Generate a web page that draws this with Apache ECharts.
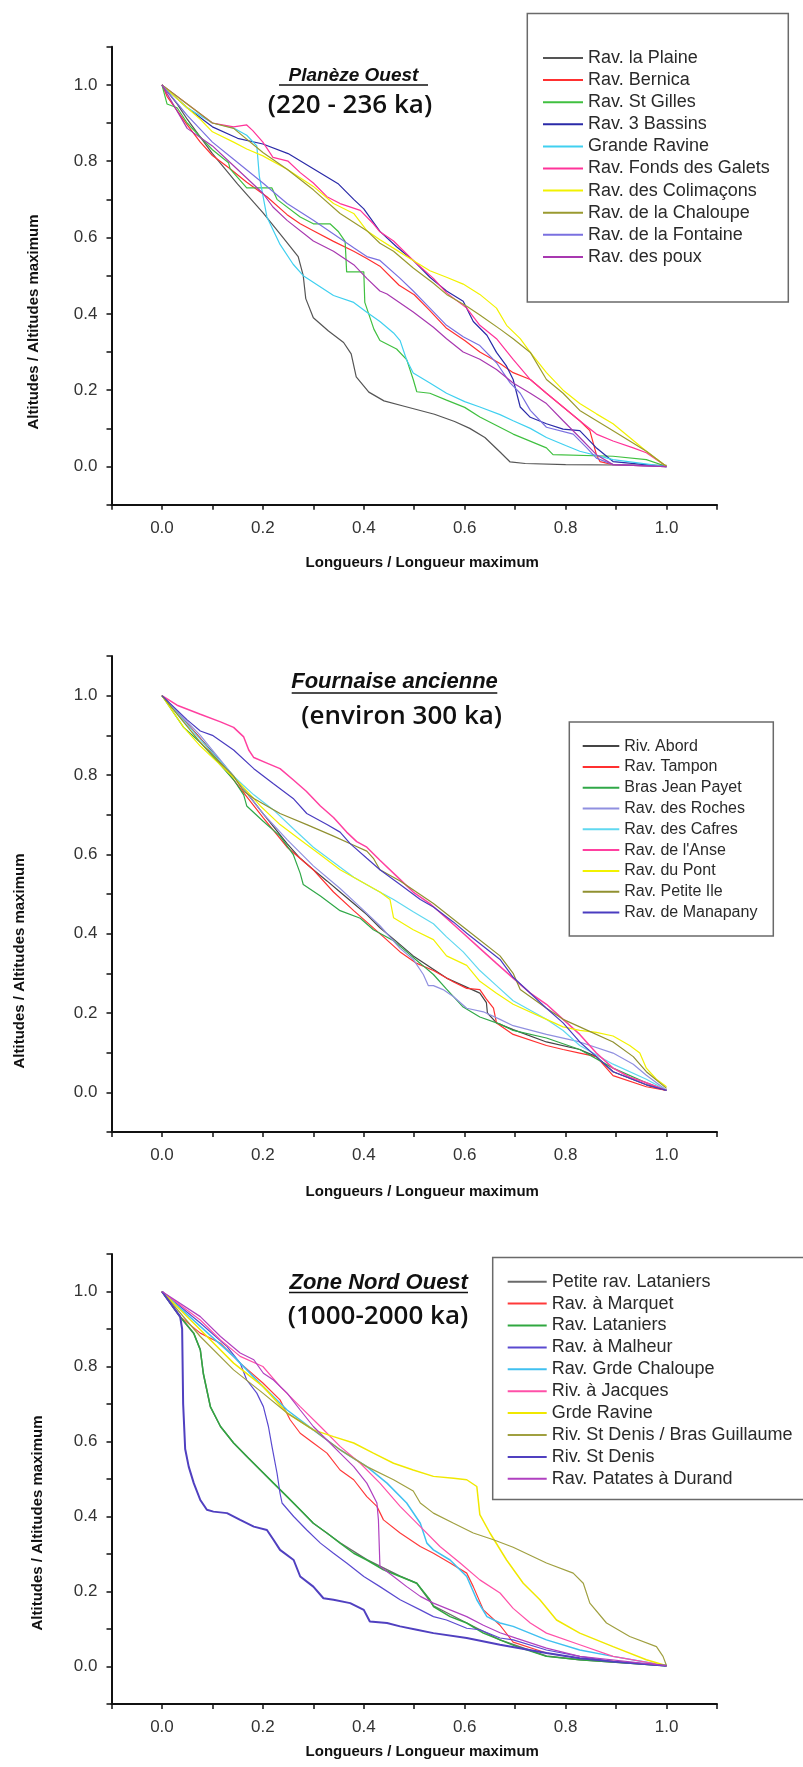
<!DOCTYPE html>
<html>
<head>
<meta charset="utf-8">
<title>Profils normalisés des ravines</title>
<script src="https://cdn.jsdelivr.net/npm/echarts@6.0.0/dist/echarts.min.js"></script>
<style>
  html, body { margin: 0; padding: 0; background: #fff; }
  #chart { width: 803px; height: 1767px; }
</style>
</head>
<body>
<div id="chart"></div>
<script>
// --- Panneau 1 : Planèze Ouest ---
const p1Names = ['Rav. la Plaine', 'Rav. Bernica', 'Rav. St Gilles', 'Rav. 3 Bassins', 'Grande Ravine',
  'Rav. Fonds des Galets', 'Rav. des Colimaçons', 'Rav. de la Chaloupe', 'Rav. de la Fontaine', 'Rav. des poux'];
const p1LaPlaine = [[0,1],[0.03,0.95],[0.05,0.91],[0.1,0.82],[0.15,0.74],[0.2,0.665],[0.24,0.6],[0.27,0.55],[0.28,0.5],[0.285,0.44],[0.3,0.39],[0.33,0.355],[0.36,0.325],[0.375,0.295],[0.385,0.235],[0.41,0.195],[0.44,0.172],[0.48,0.158],[0.54,0.137],[0.58,0.118],[0.61,0.1],[0.64,0.076],[0.67,0.038],[0.69,0.012],[0.72,0.008],[0.8,0.005],[0.9,0.004],[1,0.003]];
const p1Bernica = [[0,1],[0.01,0.97],[0.05,0.895],[0.076,0.85],[0.1,0.815],[0.135,0.78],[0.168,0.745],[0.208,0.707],[0.248,0.66],[0.274,0.636],[0.3,0.618],[0.34,0.59],[0.38,0.564],[0.406,0.545],[0.432,0.525],[0.47,0.475],[0.5,0.45],[0.53,0.41],[0.564,0.362],[0.6,0.33],[0.63,0.3],[0.67,0.27],[0.696,0.246],[0.73,0.228],[0.762,0.192],[0.795,0.156],[0.828,0.12],[0.848,0.094],[0.861,0.031],[0.868,0.013],[0.894,0.005],[1,0]];
const p1StGilles = [[0,1],[0.01,0.95],[0.03,0.94],[0.05,0.9],[0.1,0.83],[0.132,0.796],[0.135,0.78],[0.168,0.73],[0.218,0.73],[0.228,0.7],[0.274,0.654],[0.3,0.636],[0.333,0.636],[0.35,0.615],[0.363,0.59],[0.366,0.51],[0.4,0.51],[0.402,0.43],[0.42,0.36],[0.432,0.33],[0.465,0.308],[0.485,0.28],[0.498,0.228],[0.505,0.196],[0.531,0.192],[0.564,0.174],[0.6,0.155],[0.63,0.13],[0.696,0.085],[0.762,0.049],[0.775,0.031],[0.894,0.027],[0.96,0.018],[1,0]];
const p1TroisBassins = [[0,1],[0.05,0.94],[0.1,0.89],[0.15,0.86],[0.2,0.845],[0.25,0.82],[0.3,0.78],[0.35,0.74],[0.38,0.7],[0.4,0.675],[0.432,0.616],[0.465,0.576],[0.498,0.54],[0.531,0.496],[0.564,0.46],[0.597,0.433],[0.617,0.38],[0.644,0.344],[0.663,0.299],[0.683,0.263],[0.696,0.228],[0.703,0.192],[0.71,0.156],[0.73,0.129],[0.762,0.112],[0.795,0.098],[0.828,0.094],[0.86,0.05],[0.894,0.013],[1,0]];
const p1GrandeRavine = [[0,1],[0.05,0.94],[0.1,0.9],[0.142,0.887],[0.168,0.868],[0.188,0.84],[0.193,0.76],[0.198,0.725],[0.208,0.654],[0.234,0.582],[0.26,0.53],[0.28,0.5],[0.34,0.448],[0.38,0.43],[0.406,0.404],[0.432,0.38],[0.459,0.35],[0.472,0.33],[0.485,0.279],[0.498,0.245],[0.531,0.219],[0.564,0.192],[0.6,0.17],[0.63,0.156],[0.67,0.136],[0.696,0.12],[0.73,0.1],[0.762,0.076],[0.8,0.055],[0.828,0.04],[0.894,0.018],[1,0]];
const p1FondsGalets = [[0,1],[0.05,0.95],[0.1,0.9],[0.142,0.89],[0.168,0.895],[0.18,0.88],[0.2,0.85],[0.22,0.81],[0.25,0.8],[0.274,0.77],[0.3,0.743],[0.327,0.707],[0.353,0.689],[0.393,0.671],[0.419,0.636],[0.432,0.615],[0.459,0.591],[0.498,0.54],[0.538,0.493],[0.564,0.455],[0.604,0.415],[0.63,0.37],[0.663,0.335],[0.696,0.281],[0.73,0.228],[0.762,0.192],[0.795,0.156],[0.828,0.12],[0.861,0.085],[0.894,0.067],[0.934,0.049],[0.96,0.036],[1,0]];
const p1Colimacons = [[0,1],[0.05,0.94],[0.076,0.91],[0.1,0.877],[0.142,0.85],[0.168,0.832],[0.2,0.814],[0.248,0.779],[0.3,0.734],[0.34,0.689],[0.38,0.663],[0.406,0.618],[0.432,0.594],[0.465,0.567],[0.498,0.54],[0.531,0.513],[0.564,0.496],[0.597,0.478],[0.63,0.451],[0.663,0.415],[0.683,0.37],[0.71,0.335],[0.73,0.299],[0.762,0.246],[0.795,0.2],[0.828,0.165],[0.861,0.138],[0.894,0.112],[0.927,0.076],[0.96,0.04],[1,0]];
const p1Chaloupe = [[0,1],[0.05,0.95],[0.1,0.9],[0.142,0.886],[0.2,0.823],[0.248,0.779],[0.3,0.725],[0.353,0.663],[0.406,0.618],[0.432,0.585],[0.459,0.564],[0.498,0.52],[0.538,0.48],[0.564,0.451],[0.604,0.42],[0.63,0.397],[0.67,0.36],[0.696,0.335],[0.73,0.299],[0.762,0.228],[0.795,0.192],[0.828,0.147],[0.894,0.094],[0.96,0.04],[1,0]];
const p1Fontaine = [[0,1],[0.05,0.92],[0.1,0.85],[0.142,0.805],[0.2,0.743],[0.248,0.689],[0.3,0.645],[0.34,0.609],[0.38,0.573],[0.406,0.55],[0.432,0.54],[0.472,0.493],[0.498,0.46],[0.531,0.415],[0.564,0.37],[0.597,0.34],[0.63,0.317],[0.663,0.272],[0.69,0.219],[0.71,0.192],[0.73,0.147],[0.762,0.103],[0.815,0.085],[0.842,0.049],[0.861,0.022],[0.894,0.005],[1,0]];
const p1Poux = [[0,1],[0.05,0.886],[0.1,0.84],[0.142,0.788],[0.2,0.716],[0.22,0.68],[0.248,0.645],[0.3,0.591],[0.34,0.564],[0.38,0.529],[0.406,0.493],[0.432,0.46],[0.446,0.452],[0.498,0.405],[0.538,0.365],[0.564,0.335],[0.597,0.3],[0.63,0.281],[0.663,0.254],[0.696,0.219],[0.73,0.192],[0.762,0.165],[0.795,0.12],[0.828,0.076],[0.861,0.031],[0.894,0.005],[1,0]];

// --- Panneau 2 : Fournaise ancienne ---
const p2Names = ['Riv. Abord', 'Rav. Tampon', 'Bras Jean Payet', 'Rav. des Roches', 'Rav. des Cafres',
  "Rav. de l'Anse", 'Rav. du Pont', 'Rav. Petite Ile', 'Rav. de Manapany'];
const p2Abord = [[0,1],[0.076,0.892],[0.142,0.797],[0.2,0.703],[0.248,0.627],[0.274,0.59],[0.3,0.561],[0.327,0.533],[0.353,0.505],[0.38,0.476],[0.406,0.448],[0.432,0.415],[0.465,0.38],[0.498,0.344],[0.531,0.316],[0.564,0.288],[0.597,0.269],[0.63,0.25],[0.643,0.226],[0.645,0.2],[0.663,0.175],[0.696,0.158],[0.762,0.127],[0.828,0.108],[0.861,0.09],[0.894,0.052],[0.96,0.019],[1,0.005]];
const p2Tampon = [[0,1],[0.076,0.892],[0.142,0.788],[0.2,0.693],[0.248,0.618],[0.3,0.561],[0.34,0.505],[0.38,0.458],[0.406,0.429],[0.439,0.392],[0.472,0.354],[0.505,0.325],[0.538,0.307],[0.578,0.278],[0.604,0.262],[0.63,0.259],[0.643,0.235],[0.657,0.212],[0.663,0.175],[0.696,0.146],[0.762,0.118],[0.795,0.108],[0.828,0.099],[0.861,0.09],[0.894,0.042],[0.96,0.014],[1,0.005]];
const p2JeanPayet = [[0,1],[0.043,0.92],[0.076,0.882],[0.142,0.788],[0.162,0.75],[0.168,0.722],[0.2,0.684],[0.234,0.646],[0.26,0.6],[0.274,0.552],[0.28,0.524],[0.314,0.495],[0.353,0.458],[0.393,0.439],[0.419,0.41],[0.459,0.382],[0.485,0.354],[0.512,0.325],[0.538,0.297],[0.564,0.26],[0.597,0.215],[0.63,0.19],[0.67,0.172],[0.696,0.156],[0.762,0.137],[0.828,0.108],[0.894,0.061],[0.96,0.024],[1,0.005]];
const p2Roches = [[0,1],[0.076,0.9],[0.142,0.797],[0.2,0.703],[0.248,0.637],[0.3,0.571],[0.353,0.514],[0.393,0.467],[0.432,0.42],[0.472,0.363],[0.498,0.335],[0.518,0.297],[0.528,0.269],[0.538,0.269],[0.557,0.259],[0.578,0.241],[0.604,0.212],[0.637,0.203],[0.67,0.184],[0.696,0.168],[0.762,0.146],[0.828,0.127],[0.894,0.099],[0.934,0.071],[0.96,0.043],[1,0.005]];
const p2Cafres = [[0,1],[0.076,0.89],[0.142,0.797],[0.182,0.75],[0.221,0.712],[0.26,0.665],[0.3,0.618],[0.34,0.58],[0.38,0.542],[0.419,0.514],[0.459,0.486],[0.498,0.455],[0.538,0.425],[0.564,0.392],[0.597,0.354],[0.63,0.307],[0.663,0.269],[0.696,0.231],[0.762,0.184],[0.795,0.156],[0.828,0.118],[0.894,0.071],[0.96,0.033],[1,0.005]];
const p2Anse = [[0,1],[0.03,0.976],[0.076,0.953],[0.116,0.934],[0.142,0.92],[0.162,0.896],[0.172,0.863],[0.182,0.844],[0.208,0.83],[0.234,0.816],[0.26,0.788],[0.286,0.759],[0.314,0.722],[0.34,0.693],[0.366,0.656],[0.386,0.632],[0.406,0.618],[0.432,0.585],[0.465,0.545],[0.498,0.505],[0.531,0.476],[0.564,0.439],[0.597,0.401],[0.63,0.363],[0.663,0.325],[0.696,0.288],[0.73,0.25],[0.762,0.222],[0.795,0.184],[0.828,0.146],[0.861,0.099],[0.894,0.061],[0.927,0.038],[0.96,0.024],[1,0.005]];
const p2Pont = [[0,1],[0.043,0.92],[0.076,0.873],[0.116,0.825],[0.155,0.778],[0.195,0.722],[0.234,0.675],[0.274,0.637],[0.314,0.599],[0.353,0.561],[0.393,0.533],[0.432,0.505],[0.452,0.486],[0.459,0.44],[0.498,0.41],[0.538,0.385],[0.564,0.344],[0.604,0.32],[0.63,0.28],[0.663,0.25],[0.696,0.222],[0.762,0.184],[0.795,0.165],[0.828,0.156],[0.861,0.151],[0.894,0.142],[0.927,0.118],[0.947,0.099],[0.96,0.061],[0.98,0.033],[1,0.014]];
const p2PetiteIle = [[0,1],[0.076,0.882],[0.142,0.797],[0.162,0.759],[0.182,0.741],[0.234,0.703],[0.287,0.675],[0.34,0.646],[0.38,0.623],[0.406,0.608],[0.419,0.59],[0.432,0.561],[0.472,0.533],[0.538,0.476],[0.604,0.41],[0.67,0.344],[0.696,0.3],[0.71,0.259],[0.762,0.212],[0.795,0.184],[0.828,0.165],[0.894,0.127],[0.934,0.09],[0.96,0.052],[1,0.01]];
const p2Manapany = [[0,1],[0.05,0.939],[0.076,0.911],[0.1,0.9],[0.142,0.863],[0.182,0.816],[0.221,0.778],[0.26,0.741],[0.287,0.703],[0.327,0.675],[0.353,0.656],[0.373,0.627],[0.406,0.59],[0.432,0.561],[0.472,0.524],[0.512,0.486],[0.538,0.467],[0.578,0.429],[0.604,0.401],[0.67,0.335],[0.696,0.29],[0.762,0.212],[0.795,0.175],[0.828,0.127],[0.861,0.09],[0.894,0.052],[0.96,0.019],[1,0.005]];

// --- Panneau 3 : Zone Nord Ouest ---
const p3Names = ['Petite rav. Lataniers', 'Rav. à Marquet', 'Rav. Lataniers', 'Rav. à Malheur', 'Rav. Grde Chaloupe',
  'Riv. à Jacques', 'Grde Ravine', 'Riv. St Denis / Bras Guillaume', 'Riv. St Denis', 'Rav. Patates à Durand'];
const p3PetiteLataniers = [[0,1],[0.036,0.932],[0.063,0.888],[0.076,0.845],[0.082,0.78],[0.096,0.692],[0.116,0.64],[0.142,0.596],[0.195,0.524],[0.248,0.453],[0.3,0.382],[0.353,0.33],[0.406,0.285],[0.472,0.241],[0.505,0.222],[0.538,0.162],[0.604,0.116],[0.67,0.071],[0.762,0.028],[0.828,0.018],[1,0.002]];
const p3Marquet = [[0,1],[0.036,0.933],[0.076,0.889],[0.116,0.862],[0.155,0.809],[0.2,0.756],[0.234,0.711],[0.254,0.658],[0.274,0.622],[0.3,0.596],[0.327,0.569],[0.353,0.524],[0.38,0.498],[0.406,0.453],[0.426,0.427],[0.439,0.391],[0.472,0.356],[0.512,0.32],[0.538,0.302],[0.571,0.276],[0.604,0.249],[0.617,0.213],[0.637,0.151],[0.67,0.11],[0.696,0.065],[0.762,0.036],[0.828,0.022],[1,0.002]];
const p3Lataniers = [[0,1],[0.036,0.933],[0.063,0.889],[0.076,0.844],[0.082,0.782],[0.096,0.693],[0.116,0.64],[0.142,0.596],[0.168,0.56],[0.195,0.524],[0.221,0.489],[0.248,0.453],[0.274,0.418],[0.3,0.382],[0.327,0.356],[0.353,0.329],[0.38,0.302],[0.406,0.284],[0.439,0.258],[0.472,0.24],[0.505,0.222],[0.531,0.178],[0.538,0.16],[0.571,0.133],[0.604,0.116],[0.637,0.089],[0.67,0.071],[0.703,0.053],[0.762,0.027],[0.828,0.018],[1,0.002]];
const p3Malheur = [[0,1],[0.076,0.916],[0.129,0.853],[0.155,0.809],[0.168,0.764],[0.188,0.729],[0.201,0.693],[0.211,0.64],[0.218,0.587],[0.228,0.516],[0.234,0.462],[0.238,0.436],[0.261,0.4],[0.287,0.364],[0.314,0.329],[0.34,0.302],[0.366,0.276],[0.4,0.24],[0.432,0.213],[0.472,0.178],[0.512,0.151],[0.538,0.133],[0.564,0.124],[0.604,0.102],[0.63,0.098],[0.67,0.076],[0.696,0.071],[0.762,0.044],[0.828,0.027],[0.894,0.013],[1,0.002]];
const p3GrdeChaloupe = [[0,1],[0.076,0.907],[0.142,0.827],[0.2,0.747],[0.248,0.684],[0.3,0.631],[0.353,0.578],[0.406,0.533],[0.446,0.489],[0.485,0.436],[0.512,0.382],[0.525,0.329],[0.538,0.311],[0.571,0.284],[0.604,0.24],[0.624,0.178],[0.644,0.133],[0.67,0.116],[0.696,0.107],[0.762,0.071],[0.828,0.044],[0.894,0.027],[1,0.002]];
const p3Jacques = [[0,1],[0.076,0.924],[0.116,0.871],[0.155,0.827],[0.2,0.8],[0.234,0.747],[0.274,0.693],[0.314,0.64],[0.353,0.587],[0.393,0.542],[0.432,0.489],[0.472,0.427],[0.512,0.373],[0.551,0.32],[0.591,0.276],[0.63,0.231],[0.67,0.196],[0.696,0.155],[0.73,0.116],[0.762,0.089],[0.828,0.058],[0.894,0.027],[1,0.002]];
const p3GrdeRavine = [[0,1],[0.076,0.898],[0.142,0.809],[0.2,0.747],[0.248,0.676],[0.3,0.631],[0.34,0.613],[0.38,0.596],[0.419,0.569],[0.459,0.542],[0.498,0.524],[0.538,0.507],[0.578,0.502],[0.604,0.498],[0.624,0.48],[0.63,0.405],[0.65,0.356],[0.683,0.284],[0.716,0.222],[0.749,0.178],[0.782,0.124],[0.828,0.089],[0.894,0.053],[0.96,0.018],[1,0.002]];
const p3BrasGuillaume = [[0,1],[0.076,0.88],[0.142,0.791],[0.2,0.729],[0.248,0.676],[0.3,0.631],[0.353,0.578],[0.406,0.533],[0.459,0.498],[0.498,0.468],[0.512,0.436],[0.538,0.409],[0.578,0.382],[0.617,0.356],[0.657,0.338],[0.696,0.318],[0.762,0.276],[0.815,0.249],[0.835,0.222],[0.848,0.169],[0.881,0.116],[0.927,0.08],[0.98,0.053],[0.993,0.027],[1,0.002]];
const p3StDenis = [[0,1],[0.036,0.933],[0.04,0.9],[0.042,0.7],[0.046,0.58],[0.053,0.533],[0.063,0.489],[0.076,0.444],[0.089,0.418],[0.102,0.413],[0.129,0.409],[0.155,0.391],[0.182,0.373],[0.208,0.364],[0.221,0.338],[0.234,0.311],[0.261,0.284],[0.274,0.24],[0.3,0.213],[0.32,0.182],[0.34,0.178],[0.373,0.169],[0.4,0.151],[0.412,0.12],[0.446,0.116],[0.472,0.107],[0.505,0.098],[0.538,0.089],[0.604,0.076],[0.67,0.058],[0.762,0.036],[0.828,0.022],[0.894,0.013],[1,0.002]];
const p3Patates = [[0,1],[0.076,0.933],[0.116,0.88],[0.155,0.836],[0.182,0.818],[0.201,0.782],[0.221,0.764],[0.248,0.729],[0.274,0.684],[0.3,0.64],[0.327,0.604],[0.353,0.569],[0.38,0.533],[0.406,0.489],[0.426,0.436],[0.429,0.391],[0.432,0.267],[0.459,0.24],[0.485,0.213],[0.512,0.187],[0.538,0.169],[0.571,0.151],[0.604,0.133],[0.637,0.11],[0.67,0.09],[0.703,0.075],[0.762,0.049],[0.828,0.027],[1,0.002]];

const p1Data = [p1LaPlaine, p1Bernica, p1StGilles, p1TroisBassins, p1GrandeRavine, p1FondsGalets, p1Colimacons, p1Chaloupe, p1Fontaine, p1Poux];
const p2Data = [p2Abord, p2Tampon, p2JeanPayet, p2Roches, p2Cafres, p2Anse, p2Pont, p2PetiteIle, p2Manapany];
const p3Data = [p3PetiteLataniers, p3Marquet, p3Lataniers, p3Malheur, p3GrdeChaloupe, p3Jacques, p3GrdeRavine, p3BrasGuillaume, p3StDenis, p3Patates];

// couleurs / épaisseurs (style Origin)
const p1Colors = ['#555555', '#ff3030', '#40c040', '#2a2aa8', '#40d0f0', '#ff3399', '#f2f200', '#9a9a30', '#7a70e0', '#a838b0'];
const p2Colors = ['#454545', '#ff3030', '#30a848', '#9090e0', '#60d8f0', '#ff40a0', '#f2f200', '#909030', '#4a3cc0'];
const p3Colors = ['#6a6a6a', '#ff3a3a', '#30a840', '#5a4ad0', '#40c0f0', '#ff50a8', '#f0e800', '#a0a040', '#5040c0', '#b040c0'];
const p1Widths = [1.2, 1.2, 1.2, 1.2, 1.2, 1.2, 1.2, 1.2, 1.2, 1.2];
const p2Widths = [1.2, 1.2, 1.2, 1.2, 1.2, 1.5, 1.2, 1.2, 1.2];
const p3Widths = [1.4, 1.2, 1.5, 1.2, 1.5, 1.2, 1.5, 1.2, 2, 1.2];

const FONT = '"Liberation Sans", Arial, sans-serif';

// grilles en pixels
const grids = [
  { left: 111.5, top: 46.7, width: 605.5, height: 458 },
  { left: 111.5, top: 656, width: 605.5, height: 476 },
  { left: 111.5, top: 1254, width: 605.5, height: 450 },
];
const xNameGaps = [50.5, 52.5, 40];

// étiquettes seulement tous les 0.2, de 0.0 à 1.0
const tickLabel = v => {
  const k = Math.round(v * 10);
  return (k >= 0 && k <= 10 && k % 2 === 0) ? (k / 10).toFixed(1) : '';
};

const axisBase = (i, margin) => ({
  gridIndex: i,
  type: 'value',
  min: -0.1,
  max: 1.1,
  interval: 0.1,
  axisLine: { show: true, onZero: false, lineStyle: { color: '#111', width: 2 } },
  axisTick: { show: true, inside: false, length: 5, lineStyle: { color: '#111', width: 1.5 } },
  splitLine: { show: false },
  axisLabel: { formatter: tickLabel, color: '#333', fontSize: 17, fontFamily: FONT, margin: margin },
});

const makeSeries = (names, datas, colors, widths, idx) => names.map((name, j) => ({
  name: name,
  type: 'line',
  xAxisIndex: idx,
  yAxisIndex: idx,
  data: datas[j],
  showSymbol: false,
  symbol: 'none',
  smooth: false,
  itemStyle: { color: colors[j] },
  lineStyle: { color: colors[j], width: widths[j] },
  animation: false,
}));

const legendBase = (names, left, top, fontSize, gap, itemWidth) => ({
  data: names,
  orient: 'vertical',
  left: left,
  top: top,
  padding: 0,
  icon: 'rect',
  itemWidth: itemWidth,
  itemHeight: 2,
  itemGap: gap,
  selectedMode: false,
  textStyle: { fontSize: fontSize, lineHeight: fontSize, color: '#2a2a2a', fontFamily: FONT },
});

// titres, soulignés, noms d'axe Y et cadres de légende
const titleText = (text, x, y, size) => ({
  type: 'text', x: x, y: y, z: 10,
  style: { text: text, align: 'center', verticalAlign: 'middle', fill: '#111',
    fontSize: size, fontWeight: 'bold', fontStyle: 'italic', fontFamily: FONT },
});
const subText = (text, x, y) => ({
  type: 'text', x: x, y: y, z: 10,
  style: { text: text, align: 'center', verticalAlign: 'middle', fill: '#111',
    fontSize: 26, fontWeight: 600, fontFamily: '"Open Sans", "Noto Sans", sans-serif' },
});
const underline = (x1, x2, y) => ({
  type: 'line', z: 10, shape: { x1: x1, y1: y, x2: x2, y2: y }, style: { stroke: '#111', lineWidth: 1.6 },
});
const yName = (x, y) => ({
  type: 'text', x: x, y: y, rotation: Math.PI / 2, z: 10,
  style: { text: 'Altitudes / Altitudes maximum', align: 'center', verticalAlign: 'middle', fill: '#111',
    fontSize: 15, fontWeight: 'bold', fontFamily: FONT },
});
const box = (x, y, w, h) => ({
  type: 'rect', z: 0, shape: { x: x, y: y, width: w, height: h },
  style: { fill: 'transparent', stroke: '#6a6a6a', lineWidth: 1.5 },
});

const option = {
  backgroundColor: '#fff',
  animation: false,
  grid: grids,
  xAxis: grids.map((g, i) => Object.assign(axisBase(i, 15), {
    name: 'Longueurs / Longueur maximum',
    nameLocation: 'middle',
    nameGap: xNameGaps[i],
    nameTextStyle: { fontSize: 15, fontWeight: 'bold', color: '#111', fontFamily: FONT, padding: [0, 0, 0, 16] },
  })),
  yAxis: grids.map((g, i) => axisBase(i, 14)),
  legend: [
    legendBase(p1Names, 543, 49, 18, 4.1, 40),
    legendBase(p2Names, 582.7, 738.1, 16, 4.8, 36.6),
    legendBase(p3Names, 507.7, 1272.7, 18, 3.9, 39),
  ],
  graphic: [
    box(527.3, 13.5, 261, 288.5),
    box(569.3, 721.9, 204, 214),
    box(492.7, 1257.5, 330, 242),
    titleText('Planèze Ouest', 353.5, 75.5, 19),
    underline(279, 428, 85),
    subText('(220 - 236 ka)', 350, 105.5),
    titleText('Fournaise ancienne', 394.5, 681.8, 22),
    underline(291.7, 497.3, 693),
    subText('(environ 300 ka)', 401.7, 716.3),
    titleText('Zone Nord Ouest', 378.7, 1282.7, 22),
    underline(289, 468, 1292.5),
    subText('(1000-2000 ka)', 378, 1316.7),
    yName(34, 322),
    yName(20, 961),
    yName(38, 1523),
  ],
  series: [].concat(
    makeSeries(p1Names, p1Data, p1Colors, p1Widths, 0),
    makeSeries(p2Names, p2Data, p2Colors, p2Widths, 1),
    makeSeries(p3Names, p3Data, p3Colors, p3Widths, 2)
  ),
};

const chart = echarts.init(document.getElementById('chart'), null, { renderer: 'canvas' });
chart.setOption(option);
</script>
</body>
</html>
